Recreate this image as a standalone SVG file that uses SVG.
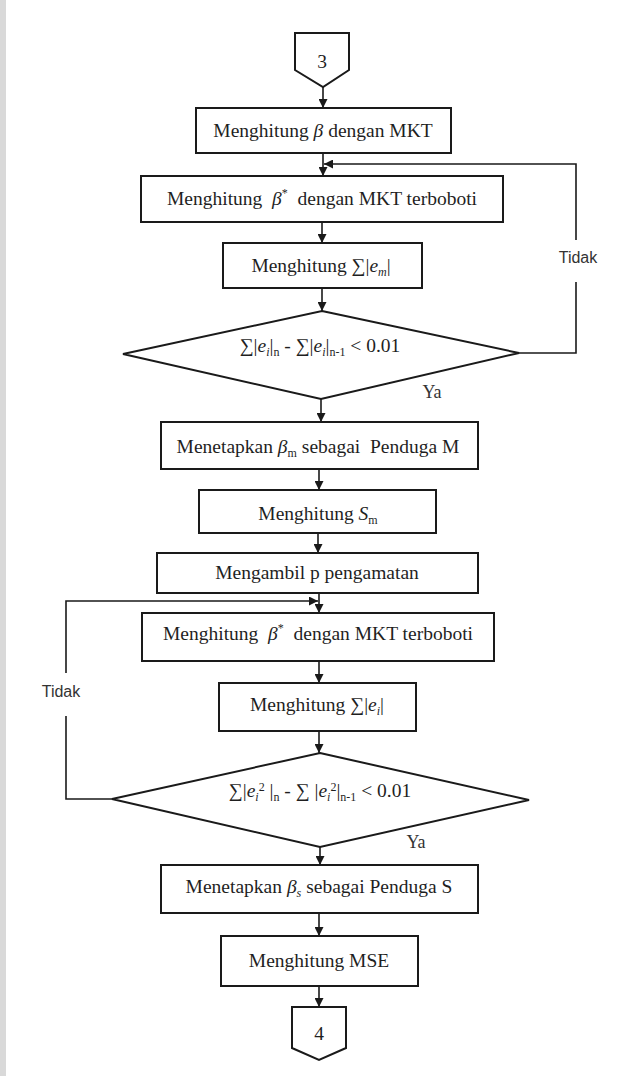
<svg xmlns="http://www.w3.org/2000/svg" width="631" height="1076" viewBox="0 0 631 1076">
<style>
.box{fill:#fff;stroke:#1a1a1a;stroke-width:2}
.ln{fill:none;stroke:#1a1a1a;stroke-width:1.6}
.t{font-family:"Liberation Serif","Times New Roman",serif;font-size:19.5px;fill:#1f1f1f;text-anchor:middle}
.i{font-style:italic}
.sb{font-size:12px}
.lab{font-family:"Liberation Sans",Arial,sans-serif;font-size:16px;fill:#333;text-anchor:middle}
.ya{font-family:"Liberation Serif","Times New Roman",serif;font-size:18px;fill:#333;text-anchor:middle}
</style>
<defs>
<marker id="ah" viewBox="0 0 10 10" refX="10" refY="5" markerWidth="9" markerHeight="9" markerUnits="userSpaceOnUse" orient="auto">
<path d="M0,0 L10,5 L0,10 z" fill="#1a1a1a"/>
</marker>
</defs>
<rect x="0" y="0" width="631" height="1076" fill="#fff"/>
<rect x="0" y="0" width="6" height="1076" fill="#d9d9d9"/>

<g id="connectors">
<path class="ln" d="M323,87 V108" marker-end="url(#ah)"/>
<path class="ln" d="M323,153 V176" marker-end="url(#ah)"/>
<path class="ln" d="M322,222 V243" marker-end="url(#ah)"/>
<path class="ln" d="M322,288 V311" marker-end="url(#ah)"/>
<path class="ln" d="M321,399 V422" marker-end="url(#ah)"/>
<path class="ln" d="M319,469 V490" marker-end="url(#ah)"/>
<path class="ln" d="M318,533 V553" marker-end="url(#ah)"/>
<path class="ln" d="M319,593 V613" marker-end="url(#ah)"/>
<path class="ln" d="M319,661 V683" marker-end="url(#ah)"/>
<path class="ln" d="M319,731 V753" marker-end="url(#ah)"/>
<path class="ln" d="M320,847 V865" marker-end="url(#ah)"/>
<path class="ln" d="M319,913 V936" marker-end="url(#ah)"/>
<path class="ln" d="M319,986 V1007" marker-end="url(#ah)"/>
<path class="ln" d="M519,353 H576 V282"/>
<path class="ln" d="M576,240 V164 H324" marker-end="url(#ah)"/>
<path class="ln" d="M112,799 H66 V716"/>
<path class="ln" d="M66,673 V601 H318" marker-end="url(#ah)"/>
<text class="lab" x="578" y="263">Tidak</text>
<text class="lab" x="61" y="697">Tidak</text>
<text class="ya" x="432" y="398">Ya</text>
<text class="ya" x="416" y="848">Ya</text>
</g>

<g id="start">
<polygon class="box" points="295,33 349,33 349,70 323,87 295,70"/>
<text class="t" x="322" y="68">3</text>
</g>

<g id="n1">
<rect class="box" x="196" y="108" width="255" height="45"/>
<text class="t" x="323" y="137">Menghitung <tspan class="i">β</tspan> dengan MKT</text>
</g>

<g id="n2">
<rect class="box" x="141" y="176" width="362" height="46"/>
<text class="t" x="322" y="205" xml:space="preserve">Menghitung  <tspan class="i">β</tspan><tspan class="sb" dy="-8">*</tspan><tspan dy="8">  dengan MKT terboboti</tspan></text>
</g>

<g id="n3">
<rect class="box" x="223" y="243" width="199" height="45"/>
<text class="t" x="321" y="272">Menghitung ∑|<tspan class="i">e</tspan><tspan class="sb i" dy="4">m</tspan><tspan dy="-4">|</tspan></text>
</g>

<g id="d1">
<polygon class="box" points="322,311 519,353 321,399 123,354"/>
<text class="t" x="320" y="352">∑|<tspan class="i">e</tspan><tspan class="sb i" dy="4">i</tspan><tspan dy="-4">|</tspan><tspan class="sb" dy="4">n</tspan><tspan dy="-4"> - ∑|</tspan><tspan class="i">e</tspan><tspan class="sb i" dy="4">i</tspan><tspan dy="-4">|</tspan><tspan class="sb" dy="4">n-1</tspan><tspan dy="-4"> &lt; 0.01</tspan></text>
</g>

<g id="n4">
<rect class="box" x="161" y="422" width="317" height="47"/>
<text class="t" x="318" y="453" xml:space="preserve">Menetapkan <tspan class="i">β</tspan><tspan class="sb" dy="4">m</tspan><tspan dy="-4"> sebagai  Penduga M</tspan></text>
</g>

<g id="n5">
<rect class="box" x="199" y="490" width="237" height="43"/>
<text class="t" x="318" y="520">Menghitung <tspan class="i">S</tspan><tspan class="sb" dy="4">m</tspan></text>
</g>

<g id="n6">
<rect class="box" x="157" y="553" width="321" height="40"/>
<text class="t" x="317" y="579">Mengambil p pengamatan</text>
</g>

<g id="n7">
<rect class="box" x="142" y="613" width="352" height="48"/>
<text class="t" x="318" y="640" xml:space="preserve">Menghitung  <tspan class="i">β</tspan><tspan class="sb" dy="-8">*</tspan><tspan dy="8">  dengan MKT terboboti</tspan></text>
</g>

<g id="n8">
<rect class="box" x="219" y="683" width="197" height="48"/>
<text class="t" x="317" y="711">Menghitung ∑|<tspan class="i">e</tspan><tspan class="sb i" dy="4">i</tspan><tspan dy="-4">|</tspan></text>
</g>

<g id="d2">
<polygon class="box" points="320,753 529,800 320,847 112,799"/>
<text class="t" x="320" y="797">∑|<tspan class="i">e</tspan><tspan class="sb i" dy="4">i</tspan><tspan class="sb" dy="-10">2</tspan><tspan dy="6"> |</tspan><tspan class="sb" dy="4">n</tspan><tspan dy="-4"> - ∑ |</tspan><tspan class="i">e</tspan><tspan class="sb i" dy="4">i</tspan><tspan class="sb" dy="-10">2</tspan><tspan dy="6">|</tspan><tspan class="sb" dy="4">n-1</tspan><tspan dy="-4"> &lt; 0.01</tspan></text>
</g>

<g id="n9">
<rect class="box" x="161" y="865" width="317" height="48"/>
<text class="t" x="319" y="893">Menetapkan <tspan class="i">β</tspan><tspan class="sb i" dy="4">s</tspan><tspan dy="-4"> sebagai Penduga S</tspan></text>
</g>

<g id="n10">
<rect class="box" x="221" y="936" width="197" height="50"/>
<text class="t" x="319" y="967">Menghitung MSE</text>
</g>

<g id="end">
<polygon class="box" points="292,1007 346,1007 346,1048 319,1060 292,1048"/>
<text class="t" x="319" y="1040">4</text>
</g>
</svg>
